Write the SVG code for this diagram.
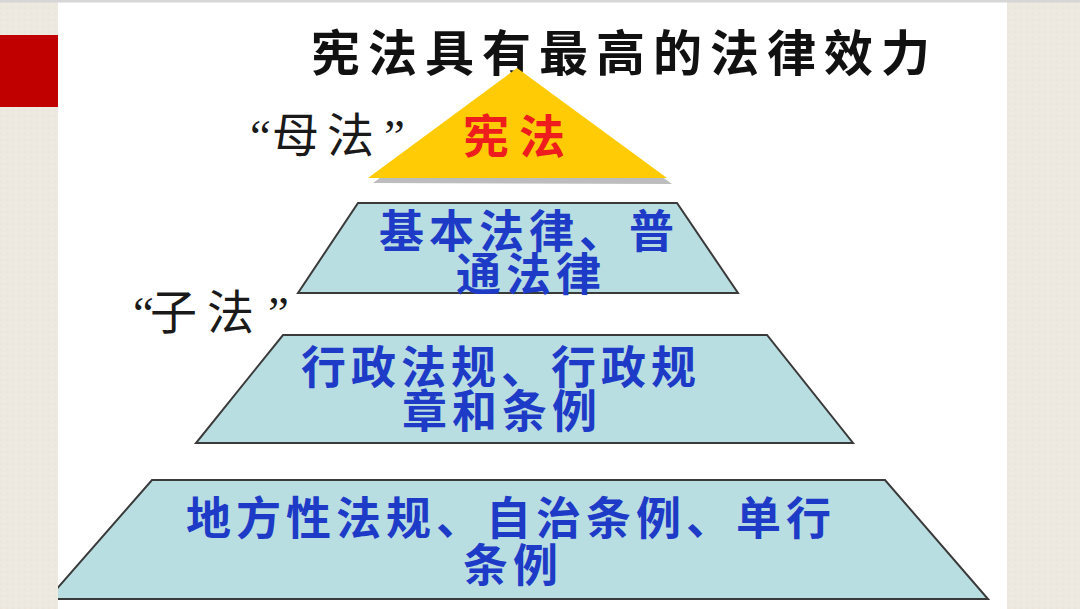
<svg xmlns="http://www.w3.org/2000/svg" width="1080" height="609" viewBox="0 0 1080 609">
<defs>
<style>
.trap{fill:#B8DEE2;stroke:#3A3A3A;stroke-width:2;stroke-linejoin:miter}
.blue{font-family:"Noto Sans CJK SC",sans-serif;font-weight:bold;font-size:45px;letter-spacing:5px;fill:#1D3BC6}
.lbl{font-family:"Noto Sans CJK SC",sans-serif;font-weight:normal;font-size:47px;fill:#1a1a1a}
.q{font-family:"Liberation Serif",serif}
</style>
<pattern id="tex" width="6" height="6" patternUnits="userSpaceOnUse">
<rect width="6" height="6" fill="#EEE9E0"/>
<circle cx="1" cy="2" r="0.6" fill="#E0D9CC"/>
<circle cx="4" cy="5" r="0.5" fill="#F7F3EC"/>
</pattern>
<clipPath id="slide"><rect x="58" y="0" width="949" height="609"/></clipPath>
</defs>
<rect x="0" y="0" width="1080" height="609" fill="#FFFFFF"/>
<rect x="0" y="0" width="58" height="609" fill="url(#tex)"/>
<rect x="1007" y="0" width="73" height="609" fill="url(#tex)"/>
<rect x="0" y="0" width="1080" height="2.5" fill="#D6D6D6"/>
<rect x="0" y="35" width="58" height="72" fill="#C00000"/>

<g id="title">
<text x="311" y="71" font-family="'Noto Sans CJK SC',sans-serif" font-weight="bold" font-size="49" letter-spacing="8" fill="#111111">宪法具有最高的法律效力</text>
</g>

<g id="label-mufa">
<text class="lbl" y="152"><tspan class="q" x="250">“</tspan><tspan x="272">母</tspan><tspan x="327">法</tspan><tspan class="q" x="384">”</tspan></text>
</g>

<g id="node-xianfa">
<polygon points="521,73 373,183 672,184" fill="#BDBDBD"/>
<polygon points="517,68 368,178 667,178" fill="#FFCB05"/>
<text y="153" font-family="'Noto Sans CJK SC',sans-serif" font-weight="bold" font-size="46" fill="#EE1C1C"><tspan x="463">宪</tspan><tspan x="519">法</tspan></text>
</g>

<g id="node-jiben">
<polygon class="trap" points="358,203 677,203 738,293 298,293"/>
<text class="blue"><tspan x="379" y="248">基本法律、普</tspan><tspan x="456" y="291">通法律</tspan></text>
</g>

<g id="label-zifa">
<text class="lbl" y="329"><tspan class="q" x="133">“</tspan><tspan x="150">子</tspan><tspan x="207">法</tspan><tspan class="q" x="268">”</tspan></text>
</g>

<g id="node-xingzheng">
<polygon class="trap" points="283,335 767,335 853,443 196,443"/>
<text class="blue"><tspan x="301" y="384">行政法规、行政规</tspan><tspan x="402" y="428">章和条例</tspan></text>
</g>

<g id="node-difang">
<g clip-path="url(#slide)">
<polygon class="trap" points="152,480 885,480 988,599 48,599"/>
</g>
<text class="blue"><tspan x="186" y="535">地方性法规、自治条例、单行</tspan><tspan x="463" y="582">条例</tspan></text>
</g>

<g id="connectors"/>
</svg>
